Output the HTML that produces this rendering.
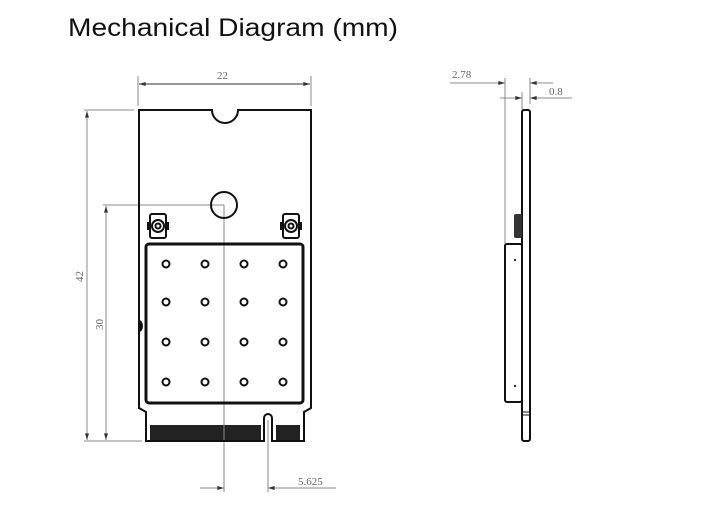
<!DOCTYPE html>
<html><head><style>
html,body{margin:0;padding:0;background:#fff;width:714px;height:512px;overflow:hidden}
svg{display:block}
</style></head><body>
<svg width="714" height="512" viewBox="0 0 714 512" xmlns="http://www.w3.org/2000/svg">
<defs>
<marker id="a" viewBox="0 0 10 6" refX="10" refY="3" markerWidth="8" markerHeight="4" orient="auto-start-reverse"><path d="M0,0L10,3L0,6z" fill="#333"/></marker>
</defs>
<text x="68" y="36" font-family="Liberation Sans, sans-serif" font-size="25" fill="#111" textLength="330" lengthAdjust="spacingAndGlyphs">Mechanical Diagram (mm)</text>

<g stroke="#888" stroke-width="1" fill="none">
<!-- 22 -->
<line x1="138" y1="76" x2="138" y2="106"/><line x1="311" y1="76" x2="311" y2="106"/>
<line x1="139" y1="84" x2="310" y2="84" stroke="#333" marker-start="url(#a)" marker-end="url(#a)"/>
<!-- 42 -->
<line x1="84" y1="110" x2="134" y2="110"/><line x1="84" y1="441" x2="142" y2="441"/>
<line x1="87" y1="111" x2="87" y2="440" marker-start="url(#a)" marker-end="url(#a)"/>
<!-- 30 -->
<line x1="103" y1="205" x2="224" y2="205"/>
<line x1="106" y1="206" x2="106" y2="440" marker-start="url(#a)" marker-end="url(#a)"/>
<!-- 5.625 -->
<line x1="224" y1="205" x2="224" y2="492"/>
<line x1="268" y1="420" x2="268" y2="492"/>
<line x1="200" y1="488" x2="224" y2="488" marker-end="url(#a)"/>
<line x1="268" y1="488" x2="336" y2="488" marker-start="url(#a)"/>
<!-- side dims -->
<line x1="505" y1="78" x2="505" y2="244"/>
<line x1="530" y1="78" x2="530" y2="104"/>
<line x1="522" y1="92" x2="522" y2="110"/>
<line x1="450" y1="83" x2="505" y2="83" marker-end="url(#a)"/>
<line x1="530" y1="83" x2="553" y2="83" marker-start="url(#a)"/>
<line x1="500" y1="98" x2="522" y2="98" marker-end="url(#a)"/>
<line x1="530" y1="98" x2="572" y2="98" marker-start="url(#a)"/>
</g>
<g font-family="Liberation Serif, serif" font-size="11" fill="#666">
<text x="217" y="79">22</text>
<text transform="translate(83,282) rotate(-90)">42</text>
<text transform="translate(103,330) rotate(-90)">30</text>
<text x="298" y="485">5.625</text>
<text x="452" y="78">2.78</text>
<text x="549" y="95">0.8</text>
</g>

<!-- board -->
<path d="M139,110 L212,110 A13,13 0 0 0 238,110 L311,110 L311,408 L304,412 L304,441 L272,441 L272,418 A4,4 0 0 0 264,418 L264,441 L146,441 L146,412 L139,408 Z" fill="none" stroke="#111" stroke-width="2"/>
<circle cx="224" cy="205" r="13" fill="none" stroke="#111" stroke-width="2"/>
<rect x="146" y="244" width="157" height="159" rx="3" fill="none" stroke="#111" stroke-width="3"/>
<path d="M139,320 a4,6 0 0 1 0,12" fill="#111"/>
<g fill="none" stroke="#111" stroke-width="2">
<circle cx="166" cy="264" r="3.5"/><circle cx="205" cy="264" r="3.5"/><circle cx="244" cy="264" r="3.5"/><circle cx="283" cy="264" r="3.5"/>
<circle cx="166" cy="302" r="3.5"/><circle cx="205" cy="302" r="3.5"/><circle cx="244" cy="302" r="3.5"/><circle cx="283" cy="302" r="3.5"/>
<circle cx="166" cy="342" r="3.5"/><circle cx="205" cy="342" r="3.5"/><circle cx="244" cy="342" r="3.5"/><circle cx="283" cy="342" r="3.5"/>
<circle cx="166" cy="382" r="3.5"/><circle cx="205" cy="382" r="3.5"/><circle cx="244" cy="382" r="3.5"/><circle cx="283" cy="382" r="3.5"/>
</g>
<!-- connectors -->
<g stroke="#111" stroke-width="2" fill="none">
<rect x="150" y="214" width="16" height="24" rx="2"/><circle cx="158" cy="226" r="6"/><circle cx="158" cy="226" r="2.5"/>
<rect x="283" y="214" width="16" height="24" rx="2"/><circle cx="291" cy="226" r="6"/><circle cx="291" cy="226" r="2.5"/>
</g>
<rect x="147" y="222" width="3" height="8" fill="#111"/><rect x="166" y="222" width="3" height="8" fill="#111"/>
<rect x="280" y="222" width="3" height="8" fill="#111"/><rect x="299" y="222" width="3" height="8" fill="#111"/>
<!-- fingers -->
<rect x="150" y="425" width="111" height="15" fill="#222"/>
<rect x="276" y="425" width="24" height="15" fill="#222"/>
<line x1="224" y1="425" x2="224" y2="440" stroke="#888"/>

<!-- side view -->
<rect x="522" y="110" width="8" height="331" rx="2" fill="none" stroke="#111" stroke-width="2"/>
<rect x="505" y="244" width="17" height="158" rx="2" fill="none" stroke="#111" stroke-width="2"/>
<rect x="514" y="214" width="8" height="24" rx="2" fill="#333"/>
<line x1="522" y1="412" x2="530" y2="412" stroke="#111"/><line x1="522" y1="415" x2="530" y2="415" stroke="#111"/>
<circle cx="515" cy="260" r="1.2" fill="#333"/><circle cx="515" cy="386" r="1.2" fill="#333"/>
</svg>
</body></html>
